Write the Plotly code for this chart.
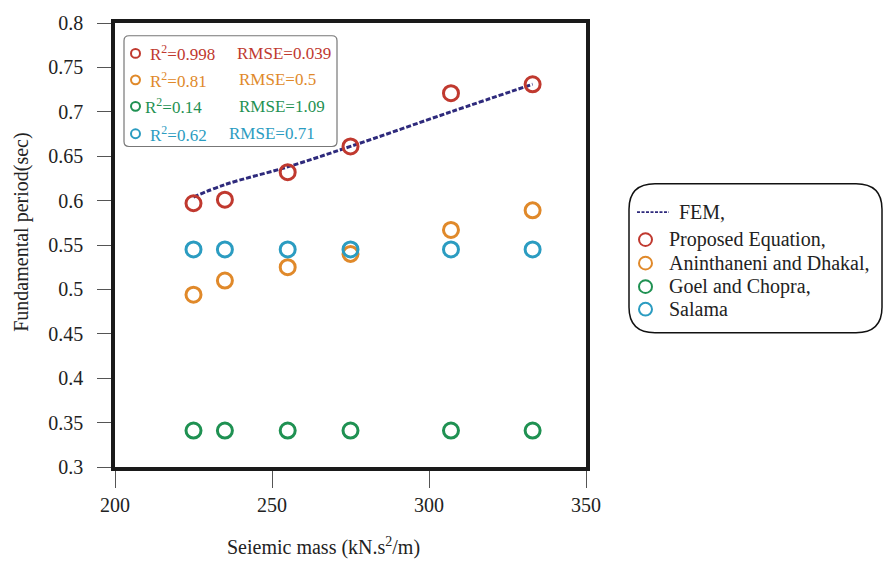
import plotly.graph_objects as go

# Seismic mass of the models (kN.s^2/m)
mass = [225, 235, 255, 275, 307, 333]

# Fundamental period (sec)
fem = [0.604, 0.618, 0.638, 0.661, 0.700, 0.731]
proposed = [0.597, 0.601, 0.632, 0.661, 0.721, 0.731]
aninthaneni = [0.494, 0.510, 0.525, 0.540, 0.567, 0.589]
goel = [0.341, 0.341, 0.341, 0.341, 0.341, 0.341]
salama = [0.545, 0.545, 0.545, 0.545, 0.545, 0.545]

series_names = ["Proposed Equation,", "Aninthaneni and Dhakal,", "Goel and Chopra,", "Salama"]
r2_values = ["0.998", "0.81", "0.14", "0.62"]
rmse_values = ["0.039", "0.5", "1.09", "0.71"]
colors = ["#c0392f", "#e0892a", "#1f9152", "#2b9cc1"]
fem_color = "#2e2a7c"

y_ticks = [0.3, 0.35, 0.4, 0.45, 0.5, 0.55, 0.6, 0.65, 0.7, 0.75, 0.8]
x_ticks = [200, 250, 300, 350]

FONT = "Times New Roman, Liberation Serif, DejaVu Serif, serif"
TXT = "#222222"
W, H = 885, 562
L, R, T, B = 115, 299, 14, 95
PW, PH = W - L - R, H - T - B


def px(x):
    return (x - L) / PW


def py(y):
    return (H - B - y) / PH


def rounded_box(x0, y0, x1, y1, r):
    """SVG path (paper coords) for a rectangle given in pixels, with rounded corners."""
    return (
        f"M {px(x0 + r)},{py(y0)} L {px(x1 - r)},{py(y0)} "
        f"Q {px(x1)},{py(y0)} {px(x1)},{py(y0 + r)} "
        f"L {px(x1)},{py(y1 - r)} Q {px(x1)},{py(y1)} {px(x1 - r)},{py(y1)} "
        f"L {px(x0 + r)},{py(y1)} Q {px(x0)},{py(y1)} {px(x0)},{py(y1 - r)} "
        f"L {px(x0)},{py(y0 + r)} Q {px(x0)},{py(y0)} {px(x0 + r)},{py(y0)} Z"
    )


fig = go.Figure()

fig.add_trace(go.Scatter(
    x=mass, y=fem, mode="lines", name="FEM,",
    line=dict(color=fem_color, width=3, dash="5px,2px", shape="spline", smoothing=1.0),
))
for name, vals, col in zip(series_names, [proposed, aninthaneni, goel, salama], colors):
    fig.add_trace(go.Scatter(
        x=mass, y=vals, mode="markers", name=name,
        marker=dict(symbol="circle-open", size=15, color=col, line=dict(width=3, color=col)),
    ))

shapes = []
annotations = []

# statistics box in the upper-left corner of the plot
shapes.append(dict(
    type="path", xref="paper", yref="paper", path=rounded_box(124, 27, 337, 140, 5),
    line=dict(color="#777777", width=1.2), layer="above",
))
row_y = [45, 72, 99, 127]
r_x = [148, 148, 143, 148]
rmse_x = [235, 237, 237, 227]
for i in range(4):
    cy = row_y[i]
    shapes.append(dict(
        type="circle", xref="paper", yref="paper",
        x0=px(131), x1=px(140), y0=py(cy + 4.5), y1=py(cy - 4.5),
        line=dict(color=colors[i], width=2),
    ))
    annotations.append(dict(
        x=px(r_x[i]), y=py(cy), xref="paper", yref="paper", xanchor="left", yanchor="middle",
        text="R<sup>2</sup>=" + r2_values[i], showarrow=False,
        font=dict(family=FONT, size=17, color=colors[i]),
    ))
    annotations.append(dict(
        x=px(rmse_x[i]), y=py(cy), xref="paper", yref="paper", xanchor="left", yanchor="middle",
        text="RMSE=" + rmse_values[i], showarrow=False,
        font=dict(family=FONT, size=17, color=colors[i]),
    ))

# series key with a rounded frame, right of the plot
shapes.append(dict(type="path", xref="paper", yref="paper", path=rounded_box(629, 178, 882, 330, 26),
                   line=dict(color="#111111", width=1.5)))

key_rows = [207, 235, 259, 283, 306]
shapes.append(dict(
    type="line", xref="paper", yref="paper",
    x0=px(637), x1=px(669), y0=py(key_rows[0]), y1=py(key_rows[0]),
    line=dict(color=fem_color, width=1.8, dash="3px,1.5px"),
))
annotations.append(dict(
    x=px(677), y=py(key_rows[0]), xref="paper", yref="paper", xanchor="left", yanchor="middle",
    text="FEM,", showarrow=False, font=dict(family=FONT, size=20, color=TXT),
))
for i, name in enumerate(series_names):
    cy = key_rows[i + 1]
    shapes.append(dict(
        type="circle", xref="paper", yref="paper",
        x0=px(639), x1=px(652), y0=py(cy + 6.5), y1=py(cy - 6.5),
        line=dict(color=colors[i], width=2),
    ))
    annotations.append(dict(
        x=px(667), y=py(cy), xref="paper", yref="paper", xanchor="left", yanchor="middle",
        text=name, showarrow=False, font=dict(family=FONT, size=20, color=TXT),
    ))

# axis titles
annotations.append(dict(
    x=px(323), y=py(548), xref="paper", yref="paper", xanchor="center", yanchor="middle",
    text="Seiemic mass (kN.s<sup>2</sup>/m)", showarrow=False,
    font=dict(family=FONT, size=20, color=TXT),
))
annotations.append(dict(
    x=px(22), y=py(228), xref="paper", yref="paper", xanchor="center", yanchor="middle",
    text="Fundamental period(sec)", showarrow=False, textangle=-90,
    font=dict(family=FONT, size=20, color=TXT),
))

axis_common = dict(
    showline=True, mirror=True, linecolor="#1a1a1a", linewidth=3.5,
    ticks="outside", tickwidth=1, tickcolor="#555555",
    showgrid=False, zeroline=False, tickfont=dict(family=FONT, size=20, color=TXT),
)

fig.update_layout(
    width=W, height=H,
    margin=dict(l=L, r=R, t=T, b=B),
    paper_bgcolor="white", plot_bgcolor="white",
    font=dict(family=FONT, size=20, color=TXT),
    showlegend=False,
    shapes=shapes,
    annotations=annotations,
    xaxis=dict(
        range=[200, 350], tickvals=x_ticks, ticktext=[str(v) for v in x_ticks],
        ticklen=17, **axis_common,
    ),
    yaxis=dict(
        range=[0.3, 0.8], tickvals=y_ticks, ticktext=[f"{v:g}" for v in y_ticks],
        ticklen=14, ticklabelstandoff=10, **axis_common,
    ),
)

fig.write_html("out.html")
